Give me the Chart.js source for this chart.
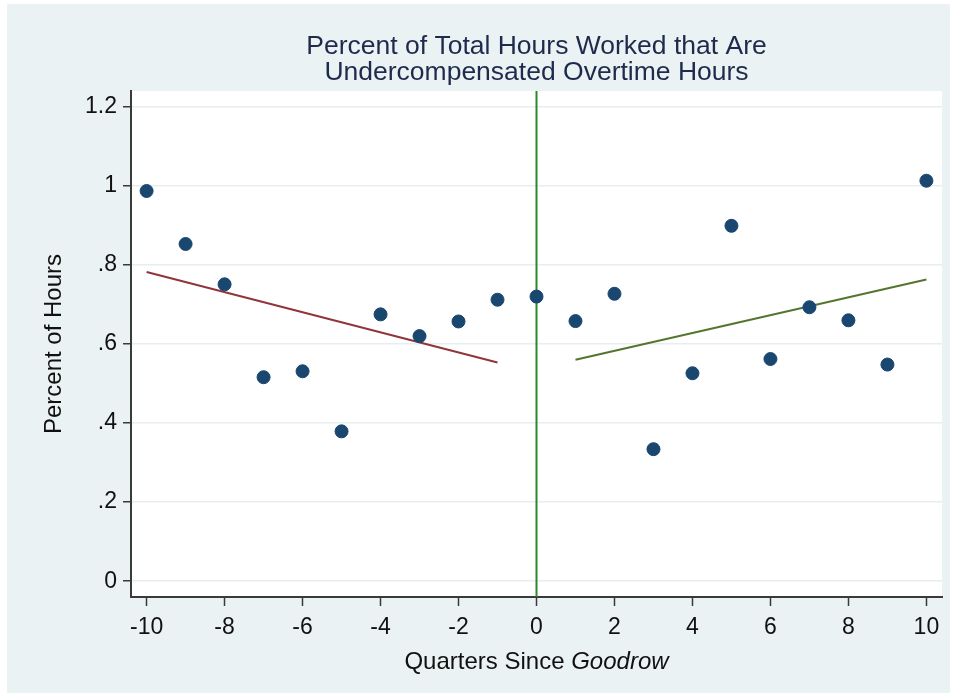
<!DOCTYPE html>
<html>
<head>
<meta charset="utf-8">
<script src="https://cdn.jsdelivr.net/npm/chart.js@4"></script>
<style>
  html, body { margin: 0; padding: 0; background: #ffffff; }
  #wrap { width: 954px; height: 698px; }
</style>
</head>
<body>
<div id="wrap"><canvas id="chart" width="954" height="698"></canvas></div>
<script>
// quarters relative to the decision, and the share of hours per quarter
const quarters = [-10, -9, -8, -7, -6, -5, -4, -3, -2, -1, 0, 1, 2, 3, 4, 5, 6, 7, 8, 9, 10];
const pctHours = [0.987, 0.853, 0.751, 0.516, 0.531, 0.379, 0.675, 0.620, 0.657, 0.712, 0.720,
                  0.658, 0.727, 0.334, 0.526, 0.899, 0.562, 0.693, 0.660, 0.548, 1.013];

// linear fits before / after
const preFitX = [-10, -1];
const preFitY = [0.782, 0.553];
const postFitX = [1, 10];
const postFitY = [0.560, 0.763];

const xTicks = [-10, -8, -6, -4, -2, 0, 2, 4, 6, 8, 10];
const yTicks = [0, 0.2, 0.4, 0.6, 0.8, 1, 1.2];
const yTickLabels = ['0', '.2', '.4', '.6', '.8', '1', '1.2'];
const eventQuarter = 0;

const COLORS = {
    outer: '#eaf2f3',
    points: '#1a476f',
    preFit: '#90353b',
    postFit: '#55752f',
    eventLine: '#2a8a2a',
    axis: '#3a3a3a',
    grid: '#e6eef0',
    title: '#1e2b4c',
    text: '#111111'
};

const FONT = '"Liberation Sans", Arial, sans-serif';

// background, plot area and the text around it
const decorPlugin = {
    id: 'decor',
    beforeDraw(chart) {
        const { ctx, chartArea: a } = chart;
        ctx.save();
        ctx.fillStyle = '#ffffff';
        ctx.fillRect(0, 0, chart.width, chart.height);
        ctx.fillStyle = COLORS.outer;
        ctx.fillRect(7, 4, chart.width - 11, chart.height - 9);
        ctx.fillStyle = '#ffffff';
        ctx.fillRect(a.left, a.top, a.right - a.left, a.bottom - a.top);
        ctx.restore();
    },
    beforeDatasetsDraw(chart) {
        const { ctx, chartArea: a, scales } = chart;
        const x = scales.x.getPixelForValue(eventQuarter);
        ctx.save();
        ctx.strokeStyle = COLORS.eventLine;
        ctx.lineWidth = 2;
        ctx.beginPath();
        ctx.moveTo(x, a.top);
        ctx.lineTo(x, a.bottom);
        ctx.stroke();
        ctx.restore();
    },
    afterDraw(chart) {
        const { ctx, chartArea: a } = chart;
        const cx = (a.left + a.right) / 2;
        ctx.save();
        // main title
        ctx.fillStyle = COLORS.title;
        ctx.font = '26.5px ' + FONT;
        ctx.textAlign = 'center';
        ctx.textBaseline = 'middle';
        ctx.fillText('Percent of Total Hours Worked that Are', cx, 47);
        ctx.fillText('Undercompensated Overtime Hours', cx, 73);

        // y axis title
        ctx.fillStyle = COLORS.text;
        ctx.font = '24px ' + FONT;
        ctx.save();
        ctx.translate(54, (a.top + a.bottom) / 2);
        ctx.rotate(-Math.PI / 2);
        ctx.fillText('Percent of Hours', 0, 0);
        ctx.restore();

        // x axis title, last word in italics
        const part1 = 'Quarters Since ';
        const part2 = 'Goodrow';
        ctx.font = '24px ' + FONT;
        const w1 = ctx.measureText(part1).width;
        ctx.font = 'italic 24px ' + FONT;
        const w2 = ctx.measureText(part2).width;
        let x0 = cx - (w1 + w2) / 2;
        ctx.textAlign = 'left';
        ctx.font = '24px ' + FONT;
        ctx.fillText(part1, x0, 662);
        ctx.font = 'italic 24px ' + FONT;
        ctx.fillText(part2, x0 + w1, 662);
        ctx.restore();
    }
};

const ctx = document.getElementById('chart').getContext('2d');
new Chart(ctx, {
    type: 'scatter',
    data: {
        datasets: [
            {
                label: 'Percent of Hours',
                data: quarters.map((q, i) => ({ x: q, y: pctHours[i] })),
                backgroundColor: COLORS.points,
                borderColor: COLORS.points,
                pointRadius: 6.5,
                pointHoverRadius: 6.5,
                order: 0
            },
            {
                label: 'Fit before',
                type: 'line',
                data: preFitX.map((q, i) => ({ x: q, y: preFitY[i] })),
                borderColor: COLORS.preFit,
                borderWidth: 2,
                pointRadius: 0,
                fill: false,
                order: 1
            },
            {
                label: 'Fit after',
                type: 'line',
                data: postFitX.map((q, i) => ({ x: q, y: postFitY[i] })),
                borderColor: COLORS.postFit,
                borderWidth: 2,
                pointRadius: 0,
                fill: false,
                order: 1
            }
        ]
    },
    options: {
        responsive: false,
        animation: false,
        layout: { padding: { left: 0, top: 91, right: 12, bottom: 0 } },
        plugins: {
            legend: { display: false },
            tooltip: { enabled: false },
            title: { display: false }
        },
        scales: {
            x: {
                type: 'linear',
                min: -10.4,
                max: 10.4,
                afterBuildTicks: (scale) => { scale.ticks = xTicks.map(v => ({ value: v })); },
                afterFit: (scale) => { scale.height = 101; },
                ticks: {
                    color: COLORS.text,
                    font: { family: FONT, size: 23 },
                    padding: 8,
                    maxRotation: 0,
                    callback: (v) => String(v)
                },
                grid: {
                    drawOnChartArea: false,
                    drawTicks: true,
                    tickLength: 9,
                    tickWidth: 1.5,
                    tickColor: COLORS.axis
                },
                border: { color: COLORS.axis, width: 2 }
            },
            y: {
                type: 'linear',
                min: -0.04,
                max: 1.24,
                afterBuildTicks: (scale) => { scale.ticks = yTicks.map(v => ({ value: v })); },
                afterFit: (scale) => { scale.width = 131; },
                ticks: {
                    color: COLORS.text,
                    font: { family: FONT, size: 23 },
                    padding: 6,
                    callback: (v) => {
                        const i = yTicks.findIndex(t => Math.abs(t - v) < 1e-9);
                        return i >= 0 ? yTickLabels[i] : '';
                    }
                },
                grid: {
                    color: COLORS.grid,
                    lineWidth: 1.5,
                    drawTicks: true,
                    tickLength: 8,
                    tickWidth: 1.5,
                    tickColor: COLORS.axis
                },
                border: { color: COLORS.axis, width: 2 }
            }
        }
    },
    plugins: [decorPlugin]
});
</script>
</body>
</html>
